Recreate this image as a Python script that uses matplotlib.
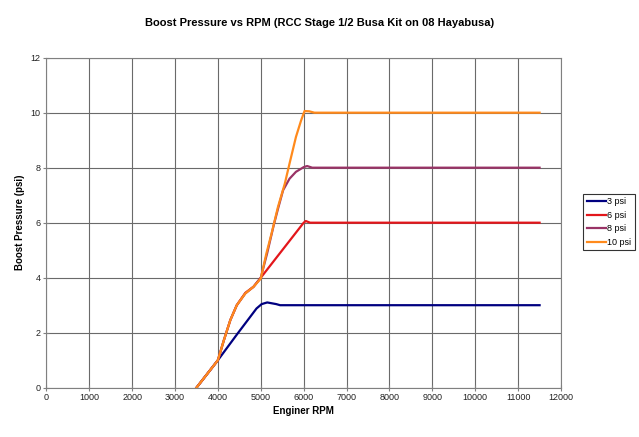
import matplotlib
matplotlib.use("Agg")
import matplotlib.pyplot as plt

#---------------------------------
# Data
#---------------------------------

rpm_3 = [3500, 3750, 4000, 4450, 4900, 5020, 5150, 5360, 5450, 11500]
psi_3 = [0.0, 0.5, 1.0, 1.95, 2.88, 3.04, 3.1, 3.04, 3.0, 3.0]

rpm_6 = [3500, 3750, 4000, 4140, 4290, 4440, 4640, 4830, 5000, 6000, 6050, 6150, 11500]
psi_6 = [0.0, 0.5, 1.0, 1.73, 2.46, 3.0, 3.45, 3.67, 4.0, 6.0, 6.06, 6.0, 6.0]

rpm_8 = [3500, 3750, 4000, 4140, 4290, 4440, 4640, 4830, 5000, 5150, 5300, 5400,
         5520, 5670, 5820, 6000, 6080, 6200, 11500]
psi_8 = [0.0, 0.5, 1.0, 1.73, 2.46, 3.0, 3.43, 3.67, 4.0, 4.9, 5.9, 6.5,
         7.18, 7.6, 7.85, 8.02, 8.06, 8.0, 8.0]

rpm_10 = [3500, 3750, 4000, 4140, 4290, 4440, 4640, 4830, 5000, 5130, 5250, 5400,
          5560, 5670, 5820, 5940, 6020, 6130, 6250, 11500]
psi_10 = [0.0, 0.5, 1.0, 1.73, 2.46, 3.0, 3.43, 3.67, 3.97, 4.88, 5.6, 6.57,
          7.42, 8.15, 9.12, 9.72, 10.06, 10.05, 10.0, 10.0]

series = [
    ("3 psi", rpm_3, psi_3, "#000080"),
    ("6 psi", rpm_6, psi_6, "#E3161B"),
    ("8 psi", rpm_8, psi_8, "#993366"),
    ("10 psi", rpm_10, psi_10, "#FF8A1C"),
]

x_ticks = list(range(0, 12001, 1000))
y_ticks = list(range(0, 13, 2))

#---------------------------------
# Plot
#---------------------------------

plt.rcParams["font.family"] = ["Liberation Sans", "DejaVu Sans"]

fig = plt.figure(figsize=(6.39, 4.37), dpi=100)
ax = fig.add_axes([0.0725, 0.1128, 0.8055, 0.7552])

for label, x, y, color in series:
    ax.plot(x, y, color=color, linewidth=1.6, label=label,
            solid_joinstyle="round")

ax.set_xlim(0, 12000)
ax.set_ylim(0, 12)
ax.set_xticks(x_ticks)
ax.set_yticks(y_ticks)
ax.tick_params(labelsize=6.5, direction="inout", length=4, width=0.8,
               colors="#808080", labelcolor="#222222", pad=2)
ax.grid(True, color="#6a6a6a", linewidth=0.8)
ax.set_axisbelow(True)
for side in ax.spines.values():
    side.set_color("#808080")
    side.set_linewidth(0.8)

ax.set_xlabel("Enginer RPM", fontsize=7, fontweight="bold", labelpad=3)
ax.set_ylabel("Boost Pressure (psi)", fontsize=7, fontweight="bold", labelpad=4)
fig.text(0.5, 1 - 23 / 437, "Boost Pressure vs RPM (RCC Stage 1/2 Busa Kit on 08 Hayabusa)",
         ha="center", va="center", fontsize=8, fontweight="bold")

leg = fig.legend(loc="center left", bbox_to_anchor=(583 / 639, 1 - 222 / 437),
                 fontsize=6.5, frameon=True, fancybox=False, handlelength=2.2,
                 handletextpad=0.1, borderpad=0.4, labelspacing=0.5, borderaxespad=0)
leg.get_frame().set_edgecolor("black")
leg.get_frame().set_linewidth(0.8)

fig.savefig("out.png", dpi=100)
